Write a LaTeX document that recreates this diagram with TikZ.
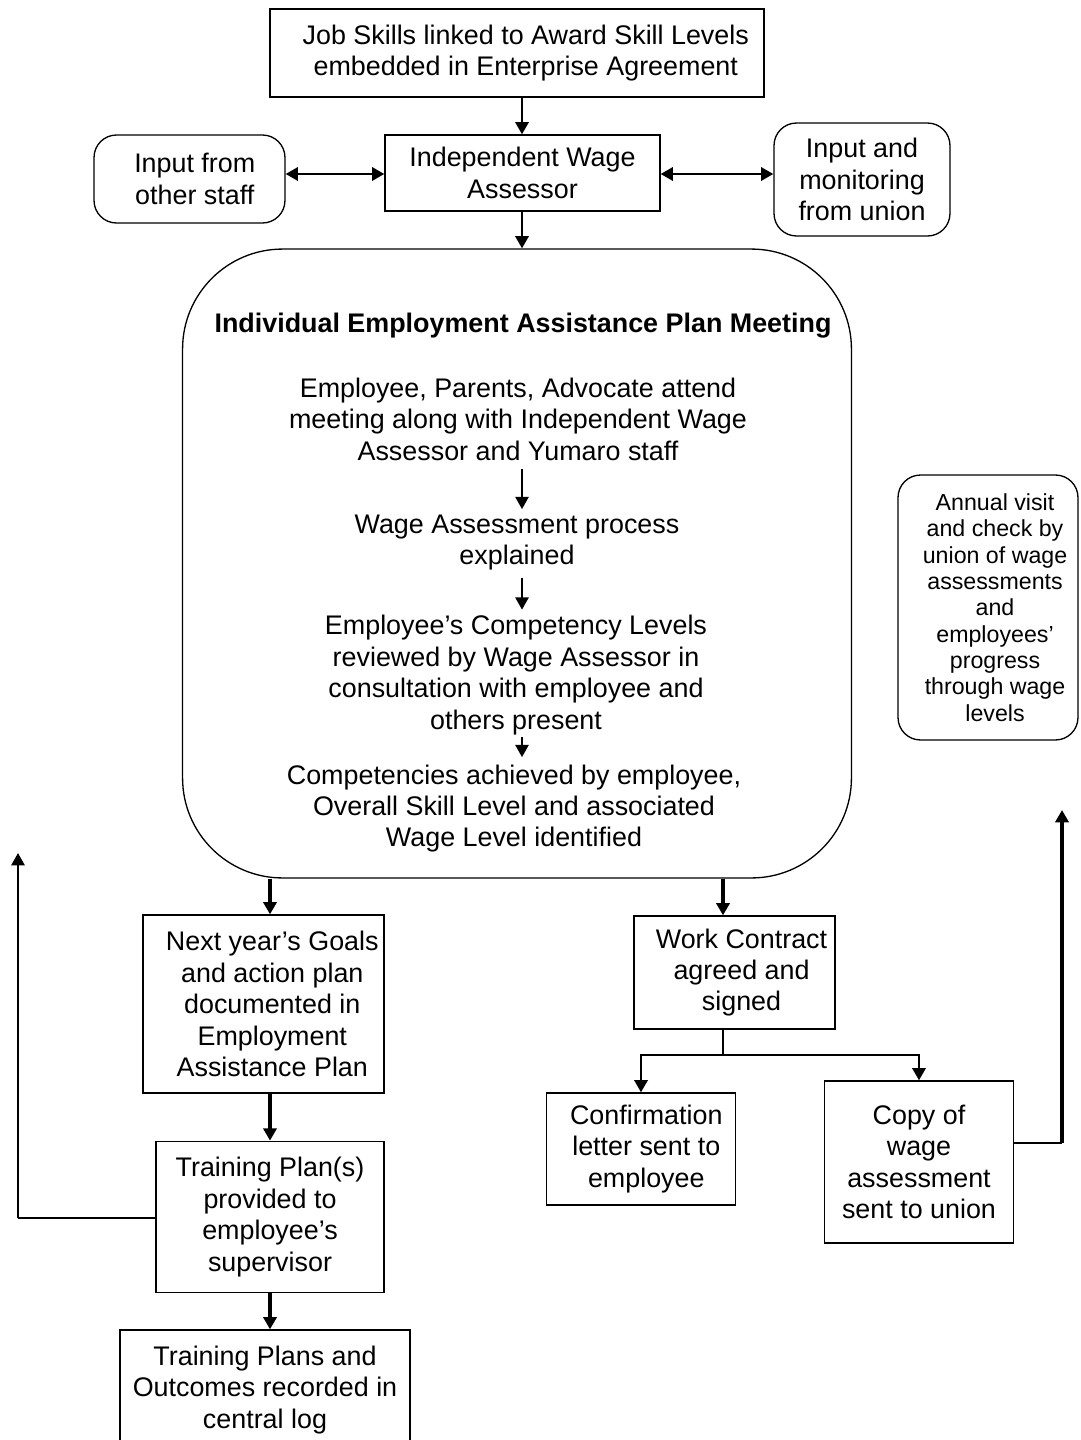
\documentclass[tikz,border=0pt]{standalone}
\usepackage{fontspec}
\setmainfont{Liberation Sans}
\usetikzlibrary{arrows.meta}
\begin{document}
\begin{tikzpicture}[x=0.02cm,y=-0.02cm,
  every node/.style={font=\fontsize{15.3}{17.9}\selectfont, align=center, inner sep=0pt},
  box/.style={draw, line width=0.75pt},
  rbox/.style={box, rounded corners=0.45cm},
  tip/.tip={Triangle[length=7pt,width=7.5pt]},
  link/.style={line width=1.6pt, -tip},
  inlink/.style={line width=1.2pt, -tip},
  twoway/.style={line width=1.6pt, tip-tip},
  heavy/.style={line width=2.4pt, -tip},
  wire/.style={line width=0.8pt},
  smalltext/.style={font=\fontsize{13.2}{15}\selectfont},
]
\useasboundingbox (0,0) rectangle (1080,1440);

% --- top row -------------------------------------------------------------
\node[box, minimum width=9.88cm, minimum height=1.76cm] (top) at (517,53)
  {\hspace*{10pt}Job Skills linked to Award Skill Levels\\\hspace*{10pt}embedded in Enterprise Agreement};
\node[box, minimum width=5.5cm, minimum height=1.52cm] (iwa) at (522.5,173)
  {Independent Wage\\Assessor};
\node[rbox, minimum width=3.82cm, minimum height=1.76cm] (staff) at (189.5,179)
  {\hspace*{6pt}Input from\\\hspace*{6pt}other staff};
\node[rbox, minimum width=3.52cm, minimum height=2.26cm] (union) at (862,179.5)
  {Input and\\monitoring\\from union};

% --- meeting block ---------------------------------------------------------
\node[box, rounded corners=2cm, minimum width=13.38cm, minimum height=12.58cm] (meet) at (517,563.5) {};
\coordinate (axis) at (522,0);
\node[font=\fontsize{15.3}{17.9}\selectfont\bfseries] (title) at (523,326)
  {Individual Employment Assistance Plan Meeting};
\node (attend) at (518,419)
  {Employee, Parents, Advocate attend\\meeting along with Independent Wage\\Assessor and Yumaro staff};
\node (explain) at (517,542.5)
  {Wage Assessment process\\explained};
\node (review) at (516,675)
  {Employee’s Competency Levels\\reviewed by Wage Assessor in\\consultation with employee and\\others present};
\node (result) at (514,808.5)
  {Competencies achieved by employee,\\Overall Skill Level and associated\\Wage Level identified};

% --- left column -----------------------------------------------------------
\coordinate (lc) at (270,0);
\node[box, minimum width=4.82cm, minimum height=3.56cm] (goals) at (263.5,1004)
  {\hspace*{10pt}Next year’s Goals\\\hspace*{10pt}and action plan\\\hspace*{10pt}documented in\\\hspace*{10pt}Employment\\\hspace*{10pt}Assistance Plan};
\node[box, minimum width=4.56cm, minimum height=3.03cm] (train) at (270,1217)
  {Training Plan(s)\\provided to\\employee’s\\supervisor};
\node[box, minimum width=5.8cm, minimum height=2.4cm] (log) at (265,1390)
  {Training Plans and\\Outcomes recorded in\\central log};
\coordinate (loopbase) at (18,1218);
\coordinate (looptop) at (18,853);

% --- right column ----------------------------------------------------------
\coordinate (rc) at (723,0);
\node[box, minimum width=4.02cm, minimum height=2.26cm] (contract) at (734.5,972.5)
  {\hspace*{8pt}Work Contract\\\hspace*{8pt}agreed and\\\hspace*{8pt}signed};
\coordinate (fork) at (723,1055);
\node[box, minimum width=3.77cm, minimum height=2.24cm] (confirm) at (641,1149)
  {\hspace*{6pt}Confirmation\\\hspace*{6pt}letter sent to\\\hspace*{6pt}employee};
\node[box, minimum width=3.78cm, minimum height=3.24cm] (copy) at (919,1162)
  {Copy of\\wage\\assessment\\sent to union};
\node[rbox, smalltext, minimum width=3.6cm, minimum height=5.3cm] (annual) at (988,607.5)
  {\hspace*{8pt}Annual visit\\\hspace*{8pt}and check by\\\hspace*{8pt}union of wage\\\hspace*{8pt}assessments\\\hspace*{8pt}and\\\hspace*{8pt}employees’\\\hspace*{8pt}progress\\\hspace*{8pt}through wage\\\hspace*{8pt}levels};
\coordinate (rightbase) at (1062,1143);
\coordinate (righttop) at (1062,810);

% --- connectors ------------------------------------------------------------
\draw[link] (top.south -| axis) -- (iwa.north -| axis);
\draw[twoway] (staff.east |- 0,174) -- (iwa.west |- 0,174);
\draw[twoway] (iwa.east |- 0,174) -- (union.west |- 0,174);
\draw[link] (iwa.south -| axis) -- (meet.north -| axis);

\draw[inlink] ([yshift=-5pt]attend.south -| axis) -- ([yshift=3pt]explain.north -| axis);
\draw[inlink] ([yshift=-4pt]explain.south -| axis) -- ([yshift=3pt]review.north -| axis);
\draw[inlink] ([yshift=-1pt]review.south -| axis) -- ([yshift=4pt]result.north -| axis);

\draw[heavy] (meet.south -| lc) -- (goals.north -| lc);
\draw[heavy] (goals.south -| lc) -- (train.north -| lc);
\draw[heavy] (train.south -| lc) -- (log.north -| lc);
\draw[wire] (train.west |- loopbase) -- (loopbase);
\draw[link, line width=1.3pt] (loopbase) -- (looptop);

\draw[heavy] (meet.south -| rc) -- (contract.north -| rc);
\draw[wire] (contract.south -| rc) -- (fork);
\draw[wire] (fork -| confirm.north) -- (fork -| copy.north);
\draw[link] ([yshift=0.4pt]fork -| confirm.north) -- (confirm.north);
\draw[link] ([yshift=0.4pt]fork -| copy.north) -- (copy.north);
\draw[wire] (copy.east |- rightbase) -- (rightbase);
\draw[link, line width=2.2pt] (rightbase) -- (righttop);
\end{tikzpicture}
\end{document}
